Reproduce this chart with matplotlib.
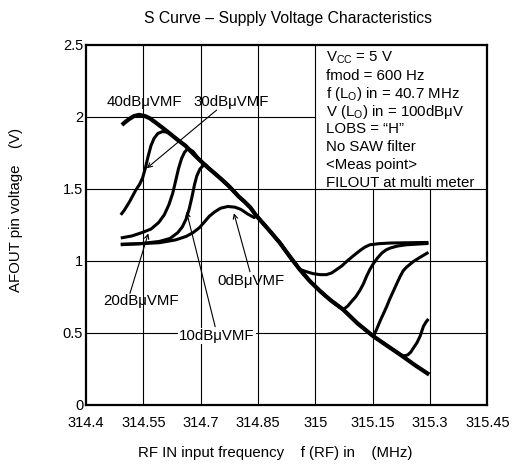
import matplotlib
matplotlib.use("Agg")
import matplotlib.pyplot as plt

plt.rcParams['font.family'] = ['Liberation Sans', 'DejaVu Sans']
plt.rcParams['mathtext.fontset'] = 'custom'
plt.rcParams['mathtext.rm'] = 'Liberation Sans'
plt.rcParams['mathtext.it'] = 'Liberation Sans:italic'

# ---- data ----
x_ticks = [314.4, 314.55, 314.7, 314.85, 315, 315.15, 315.3, 315.45]
x_tick_labels = ["314.4", "314.55", "314.7", "314.85", "315", "315.15", "315.3", "315.45"]
y_ticks = [0, 0.5, 1, 1.5, 2, 2.5]
y_tick_labels = ["0", "0.5", "1", "1.5", "2", "2.5"]

# shared envelope (the 40 dBuVMF curve)
env_x = [314.494, 314.503, 314.513, 314.525, 314.539, 314.555, 314.567, 314.58, 314.60,
         314.618, 314.64, 314.66, 314.68, 314.697, 314.72, 314.74, 314.757, 314.775,
         314.80, 314.815, 314.83, 314.845, 314.86, 314.883, 314.907, 314.933, 314.959,
         314.985, 315.012, 315.04, 315.073, 315.11, 315.152, 315.19, 315.222, 315.26,
         315.298]
env_y = [1.944, 1.965, 1.985, 2.005, 2.014, 2.005, 1.99, 1.965, 1.925,
         1.887, 1.84, 1.80, 1.745, 1.701, 1.645, 1.60, 1.56, 1.516,
         1.445, 1.41, 1.37, 1.315, 1.27, 1.20, 1.125, 1.03, 0.94,
         0.86, 0.79, 0.725, 0.66, 0.565, 0.474, 0.405, 0.347, 0.275,
         0.208]

# 30 dBuVMF: own left part, joins envelope, own right part
c30_left_x = [314.491, 314.50, 314.515, 314.53, 314.54, 314.548, 314.555, 314.562, 314.57,
              314.578, 314.588, 314.60, 314.61]
c30_left_y = [1.319, 1.35, 1.415, 1.49, 1.53, 1.575, 1.64, 1.72, 1.80,
              1.85, 1.885, 1.898, 1.895]
c30_right_x = [315.232, 315.242, 315.25, 315.257, 315.266, 315.274, 315.283, 315.29, 315.296]
c30_right_y = [0.338, 0.345, 0.365, 0.394, 0.43, 0.474, 0.544, 0.575, 0.595]

# 20 dBuVMF
c20_left_x = [314.491, 314.52, 314.548, 314.57, 314.59, 314.605, 314.617, 314.627, 314.635,
              314.642, 314.65, 314.658, 314.667, 314.68]
c20_left_y = [1.158, 1.172, 1.197, 1.22, 1.265, 1.32, 1.39, 1.47, 1.56,
              1.64, 1.71, 1.755, 1.78, 1.76]
c20_right_x = [315.16, 315.169, 315.178, 315.187, 315.195, 315.204, 315.213, 315.222, 315.23,
               315.239, 315.257, 315.275, 315.296]
c20_right_y = [0.52, 0.578, 0.63, 0.683, 0.735, 0.787, 0.84, 0.891, 0.93,
               0.956, 0.995, 1.025, 1.058]

# 10 dBuVMF
c10_left_x = [314.491, 314.54, 314.592, 314.62, 314.64, 314.652, 314.662, 314.67, 314.677,
              314.684, 314.69, 314.698, 314.706, 314.714]
c10_left_y = [1.111, 1.118, 1.134, 1.155, 1.195, 1.235, 1.29, 1.36, 1.44,
              1.53, 1.59, 1.637, 1.66, 1.665]
c10_right_x = [315.085, 315.095, 315.106, 315.117, 315.126, 315.134, 315.143, 315.152, 315.163,
               315.174, 315.185, 315.196, 315.215, 315.239, 315.296]
c10_right_y = [0.685, 0.717, 0.75, 0.795, 0.84, 0.891, 0.94, 0.98, 1.02,
               1.053, 1.075, 1.088, 1.102, 1.111, 1.12]

# 0 dBuVMF
c0_left_x = [314.491, 314.54, 314.592, 314.635, 314.662, 314.68, 314.697, 314.71, 314.723,
             314.737, 314.752, 314.771, 314.79, 314.805, 314.823, 314.84]
c0_left_y = [1.115, 1.118, 1.125, 1.145, 1.169, 1.195, 1.23, 1.27, 1.31,
             1.34, 1.365, 1.377, 1.372, 1.357, 1.325, 1.30]
c0_right_x = [314.975, 314.994, 315.012, 315.029, 315.043, 315.055, 315.07, 315.082, 315.10,
              315.117, 315.13, 315.143, 315.165, 315.196, 315.296]
c0_right_y = [0.925, 0.91, 0.903, 0.903, 0.915, 0.937, 0.965, 0.995, 1.035,
              1.071, 1.095, 1.111, 1.118, 1.123, 1.127]

legend_lines = ["V$_{\\mathregular{CC}}$ = 5 V", "fmod = 600 Hz",
                "f (L$_{\\mathregular{O}}$) in = 40.7 MHz",
                "V (L$_{\\mathregular{O}}$) in = 100dB\u03bcV", "LOBS = \u201cH\u201d",
                "No SAW filter", "<Meas point>", "FILOUT at multi meter"]


def compose(lx, ly, rx, ry):
    """left part + envelope points between them + right part"""
    mx = [x for x in env_x if lx[-1] < x < rx[0]]
    my = [y for x, y in zip(env_x, env_y) if lx[-1] < x < rx[0]]
    return lx + mx + rx, ly + my + ry


# ---- figure ----
W, H = 515, 471
fig = plt.figure(figsize=(W / 100, H / 100), dpi=100)
ax = fig.add_axes([86 / W, 1 - 404.5 / H, 401.3 / W, 359.5 / H])
ax.set_xlim(314.4, 315.45)
ax.set_ylim(0, 2.5)

glw = 0.8
for xv in [314.55, 314.7, 314.85, 315]:
    ax.plot([xv, xv], [0, 2.5], color='black', lw=glw, zorder=1)
for xv in [315.15, 315.3]:
    ax.plot([xv, xv], [0, 1.5], color='black', lw=glw, zorder=1)
ax.plot([314.4, 315], [2, 2], color='black', lw=glw, zorder=1)
for yv in [0.5, 1, 1.5]:
    ax.plot([314.4, 315.45], [yv, yv], color='black', lw=glw, zorder=1)

ax.plot(env_x, env_y, color='black', lw=3.0, solid_capstyle='butt',
        solid_joinstyle='round', zorder=3)
for parts in [(c30_left_x, c30_left_y, c30_right_x, c30_right_y),
              (c20_left_x, c20_left_y, c20_right_x, c20_right_y),
              (c10_left_x, c10_left_y, c10_right_x, c10_right_y),
              (c0_left_x, c0_left_y, c0_right_x, c0_right_y)]:
    cx, cy = compose(*parts)
    ax.plot(cx, cy, color='black', lw=2.2, solid_capstyle='butt',
            solid_joinstyle='round', zorder=3)

for sp in ax.spines.values():
    sp.set_linewidth(1.6)

ax.set_xticks(x_ticks)
ax.set_xticklabels(x_tick_labels)
ax.set_yticks(y_ticks)
ax.set_yticklabels(y_tick_labels)
ax.tick_params(length=0, labelsize=10.5, colors='black')
ax.tick_params(axis='x', pad=8.5)
ax.tick_params(axis='y', pad=2)

fs = 10.8
ax.text(314.554, 2.104, "40dB\u03bcVMF", ha='center', va='center', fontsize=fs, zorder=5)
ax.text(314.779, 2.104, "30dB\u03bcVMF", ha='center', va='center', fontsize=fs, zorder=5)
ax.text(314.544, 0.72, "20dB\u03bcVMF", ha='center', va='center', fontsize=fs, zorder=5)
ax.text(314.743, 0.476, "10dB\u03bcVMF", ha='center', va='center', fontsize=fs, zorder=5,
        bbox=dict(facecolor='white', edgecolor='none', pad=1))
ax.text(314.832, 0.859, "0dB\u03bcVMF", ha='center', va='center', fontsize=fs, zorder=5)

arrows = [((314.742, 2.048), (314.559, 1.643)),
          ((314.515, 0.773), (314.563, 1.19)),
          ((314.738, 0.541), (314.663, 1.341)),
          ((314.829, 0.923), (314.787, 1.33))]
for tail, head in arrows:
    ax.annotate("", xy=head, xytext=tail,
                arrowprops=dict(arrowstyle='->', lw=0.8, color='black',
                                shrinkA=0, shrinkB=0, mutation_scale=8), zorder=4)

leg_y = [2.410, 2.284, 2.159, 2.034, 1.913, 1.788, 1.666, 1.541]
for txt, yy in zip(legend_lines, leg_y):
    ax.text(315.029, yy, txt, ha='left', va='center', fontsize=fs, zorder=5)

fig.text(287.5 / W, 1 - 19 / H, "S Curve \u2013 Supply Voltage Characteristics",
         ha='center', va='center', fontsize=11.3)
fig.text(275 / W, 1 - 453 / H, "RF IN input frequency    f (RF) in    (MHz)",
         ha='center', va='center', fontsize=fs)
fig.text(16 / W, 1 - 210 / H, "AFOUT pin voltage    (V)", rotation=90,
         ha='center', va='center', fontsize=fs)

fig.savefig("out.png", dpi=100)
